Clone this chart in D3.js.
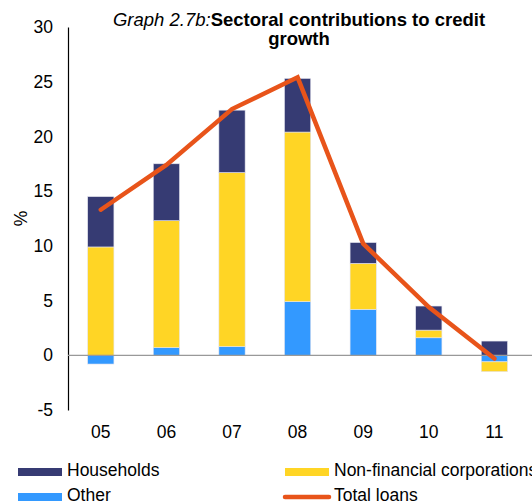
<!DOCTYPE html>
<html>
<head>
<meta charset="utf-8">
<script src="https://cdn.jsdelivr.net/npm/d3@7"></script>
<style>
  body { margin: 0; background: #fff; }
  text { font-family: "Liberation Sans", Arial, sans-serif; }
</style>
</head>
<body>
<div id="chart"></div>
<script>
// Data
var years = ["05", "06", "07", "08", "09", "10", "11"];
var households = [4.6, 5.2, 5.7, 4.9, 1.9, 2.2, 1.3];
var nonFinancial = [9.9, 11.6, 15.9, 15.5, 4.2, 0.7, -0.9];
var other = [-0.8, 0.7, 0.8, 4.9, 4.2, 1.6, -0.6];
var totalLoans = [13.3, 17.4, 22.5, 25.4, 10.2, 4.4, -0.3];
var yTicks = [-5, 0, 5, 10, 15, 20, 25, 30];

var colors = { hh: "#363b73", nfc: "#ffd525", other: "#3399ff", total: "#e8541a" };

// Canvas
var width = 532, height = 504;
var margin = { top: 27, left: 68 };
var plotBottom = 410;
var fs = 17.5;

var svg = d3.select("#chart").append("svg")
    .attr("width", width)
    .attr("height", height);

var x = d3.scaleBand()
    .domain(years)
    .range([margin.left, margin.left + 7 * 65.6])
    .paddingInner(0.6)
    .paddingOuter(0.3);

var y = d3.scaleLinear()
    .domain([-5, 30])
    .range([plotBottom, margin.top]);

// stacks: positives go up, negatives go down
var rows = years.map(function(d, i) {
    return { year: d, parts: [
        { key: "other", v: other[i] },
        { key: "nfc", v: nonFinancial[i] },
        { key: "hh", v: households[i] }
    ] };
});

rows.forEach(function(r) {
    var pos = 0, neg = 0;
    r.parts.forEach(function(p) {
        if (p.v >= 0) { p.y0 = pos; pos += p.v; p.y1 = pos; }
        else { p.y0 = neg; neg += p.v; p.y1 = neg; }
    });
});

// y axis
var yAxis = svg.append("g")
    .attr("transform", "translate(" + margin.left + ",0)")
    .call(d3.axisLeft(y).tickValues(yTicks).tickSize(0).tickPadding(15)
        .tickFormat(function(d) { return String(d); }));
yAxis.select(".domain").attr("stroke", "#000").attr("stroke-width", 1.2);
yAxis.selectAll("text").attr("font-size", fs).attr("fill", "#000")
    .attr("font-family", "Liberation Sans, Arial, sans-serif");

svg.append("text")
    .attr("transform", "translate(27," + y(12.5) + ") rotate(-90)")
    .attr("text-anchor", "middle")
    .attr("font-size", fs)
    .text("%");

// bars
svg.append("g").selectAll("g")
    .data(rows)
    .join("g")
    .selectAll("rect")
    .data(function(r) { return r.parts.map(function(p) { p.year = r.year; return p; }); })
    .join("rect")
    .attr("x", function(p) { return x(p.year); })
    .attr("width", x.bandwidth())
    .attr("y", function(p) { return y(Math.max(p.y0, p.y1)); })
    .attr("height", function(p) { return Math.abs(y(p.y0) - y(p.y1)); })
    .attr("fill", function(p) { return colors[p.key]; })
    .attr("stroke", "#e4e4ee")
    .attr("stroke-width", 0.6);

// zero line
svg.append("line")
    .attr("x1", margin.left).attr("x2", width)
    .attr("y1", y(0)).attr("y2", y(0))
    .attr("stroke", "#999").attr("stroke-width", 1.2);

// x labels
svg.append("g").selectAll("text")
    .data(years)
    .join("text")
    .attr("x", function(d) { return x(d) + x.bandwidth() / 2; })
    .attr("y", 438)
    .attr("text-anchor", "middle")
    .attr("font-size", fs)
    .text(function(d) { return d; });

// total loans line
var line = d3.line()
    .x(function(d, i) { return x(years[i]) + x.bandwidth() / 2; })
    .y(function(d) { return y(d); });

svg.append("path")
    .datum(totalLoans)
    .attr("d", line)
    .attr("fill", "none")
    .attr("stroke", colors.total)
    .attr("stroke-width", 4.5)
    .attr("stroke-linecap", "round");

// title
var title = svg.append("text")
    .attr("x", 299).attr("y", 26)
    .attr("text-anchor", "middle")
    .attr("font-size", 18.5);
title.append("tspan").attr("font-style", "italic").text("Graph 2.7b:");
title.append("tspan").attr("font-weight", "bold").text("Sectoral contributions to credit");
svg.append("text")
    .attr("x", 299).attr("y", 45)
    .attr("text-anchor", "middle")
    .attr("font-size", 18.5)
    .attr("font-weight", "bold")
    .text("growth");

// legend
var legend = [
    { label: "Households", key: "hh", x: 18, y: 472, type: "rect" },
    { label: "Non-financial corporations", key: "nfc", x: 285, y: 472, type: "rect" },
    { label: "Other", key: "other", x: 18, y: 497, type: "rect" },
    { label: "Total loans", key: "total", x: 285, y: 497, type: "line" }
];

var lg = svg.append("g").selectAll("g")
    .data(legend)
    .join("g")
    .attr("transform", function(d) { return "translate(" + d.x + "," + d.y + ")"; });

lg.filter(function(d) { return d.type === "rect"; })
    .append("rect")
    .attr("x", 0).attr("y", -4)
    .attr("width", 44).attr("height", 8)
    .attr("fill", function(d) { return colors[d.key]; });

lg.filter(function(d) { return d.type === "line"; })
    .append("line")
    .attr("x1", 0).attr("x2", 44)
    .attr("y1", 0).attr("y2", 0)
    .attr("stroke", colors.total)
    .attr("stroke-width", 4.5)
    .attr("stroke-linecap", "round");

lg.append("text")
    .attr("x", 49).attr("y", 4)
    .attr("font-size", fs)
    .text(function(d) { return d.label; });
</script>
</body>
</html>
